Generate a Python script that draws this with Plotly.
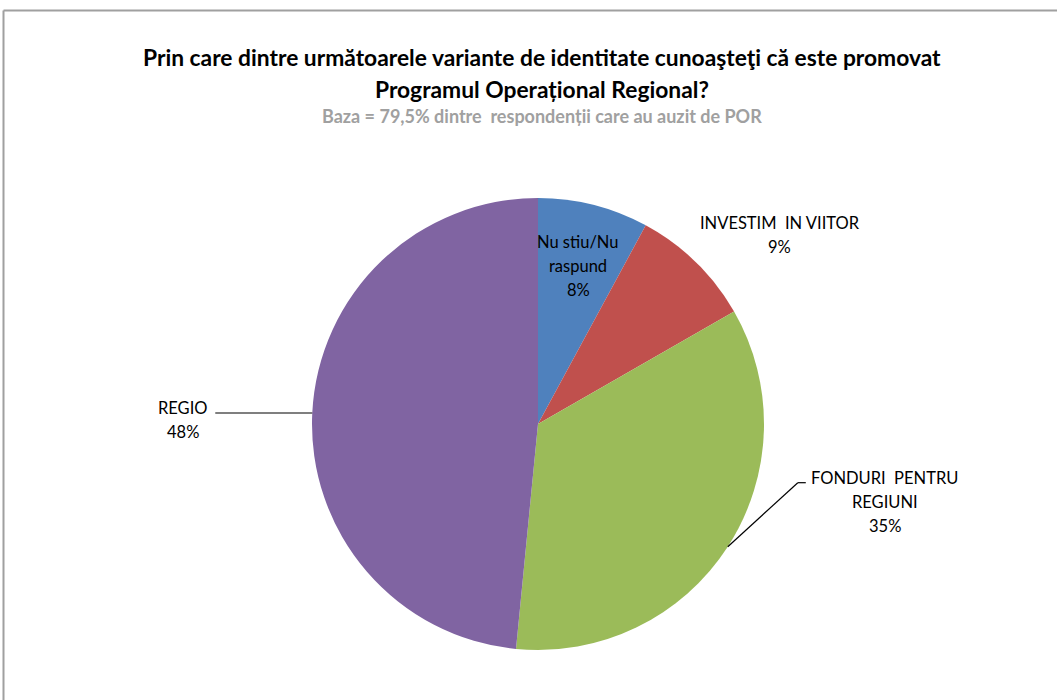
import math
import plotly.graph_objects as go

labels = ["Nu stiu/Nu raspund", "INVESTIM IN VIITOR", "FONDURI PENTRU REGIUNI", "REGIO"]
label_lines = [["Nu stiu/Nu", "raspund"], ["INVESTIM  IN VIITOR"], ["FONDURI  PENTRU", "REGIUNI"], ["REGIO"]]
values = [7.9, 8.8, 34.8, 48.4]
colors = ["#4F81BD", "#C0504D", "#9BBB59", "#8064A2"]

title_line1 = "Prin care dintre următoarele variante de identitate cunoaşteţi că este promovat"
title_line2 = "Programul Operațional Regional?"
subtitle = "Baza = 79,5% dintre  respondenții care au auzit de POR"

W, H = 1057, 700
cx, cy, R = 538, 424, 226  # pie geometry in pixels

FONT = "Lato, Carlito, sans-serif"

fig = go.Figure()
fig.add_trace(go.Pie(
    labels=labels, values=values, sort=False, direction="clockwise", rotation=0,
    marker=dict(colors=colors, line=dict(width=0)),
    textinfo="none", hoverinfo="label+percent", showlegend=False,
    domain=dict(x=[(cx - R) / W, (cx + R) / W], y=[1 - (cy + R) / H, 1 - (cy - R) / H]),
))

total = sum(values)
cum = 0.0
mids = []
for v in values:
    mids.append((cum + v / 2) / total * 2 * math.pi)
    cum += v

def px2paper(x, y):
    return x / W, 1 - y / H

def on_circle(theta, r):
    return cx + r * math.sin(theta), cy - r * math.cos(theta)

pcts = [f"{round(v / total * 100)}%" for v in values]

LH = 24  # label line spacing in px

def add_label(xc, ytop, lines, size=16.5, color="#000000"):
    for i, t in enumerate(lines):
        px, py = px2paper(xc, ytop + i * LH)
        fig.add_annotation(x=px, y=py, xref="paper", yref="paper", text=t, showarrow=False,
                           xanchor="center", yanchor="middle", align="center",
                           font=dict(family=FONT, size=size, color=color))

x0, y0 = on_circle(mids[0], R * 0.72)
add_label(x0, y0 - LH, label_lines[0] + [pcts[0]])
x1, y1 = on_circle(mids[1], R)
add_label(x1 + 84, y1 - 39, label_lines[1] + [pcts[1]])
x2, y2 = on_circle(mids[2], R)
add_label(x2 + 157, y2 - 69, label_lines[2] + [pcts[2]])
x3, y3 = on_circle(mids[3], R)
add_label(x3 - 129, y3 - 5, label_lines[3] + [pcts[3]])

# leader lines
shapes = []
def line(xa, ya, xb, yb, color="#000000", width=1.2):
    pa = px2paper(xa, ya); pb = px2paper(xb, yb)
    shapes.append(dict(type="line", xref="paper", yref="paper", x0=pa[0], y0=pa[1], x1=pb[0], y1=pb[1],
                       line=dict(color=color, width=width)))
line(x2, y2, x2 + 70, y2 - 64)
line(x2 + 70, y2 - 64, x2 + 78, y2 - 64)
line(x3, y3, x3 - 97, y3)

# chart border (top and left visible)
line(3.5, 10.5, W, 10.5, color="#A0A0A0", width=2)
line(3.5, 10.5, 3.5, H, color="#A0A0A0", width=2)

for text, yy, size, color in [(title_line1, 57, 22.8, "#000000"), (title_line2, 89, 22.8, "#000000"),
                               (subtitle, 116, 18, "#A0A0A0")]:
    px, py = px2paper(542, yy)
    fig.add_annotation(x=px, y=py, xref="paper", yref="paper", showarrow=False,
                       text="<b>" + text + "</b>", xanchor="center", yanchor="middle",
                       font=dict(family=FONT, size=size, color=color))

fig.update_layout(width=W, height=H, margin=dict(l=0, r=0, t=0, b=0),
                  paper_bgcolor="white", plot_bgcolor="white", shapes=shapes)

fig.write_html("out.html", config={"displayModeBar": False},
               post_script="document.body.style.margin='0';document.body.style.overflow='hidden';")
